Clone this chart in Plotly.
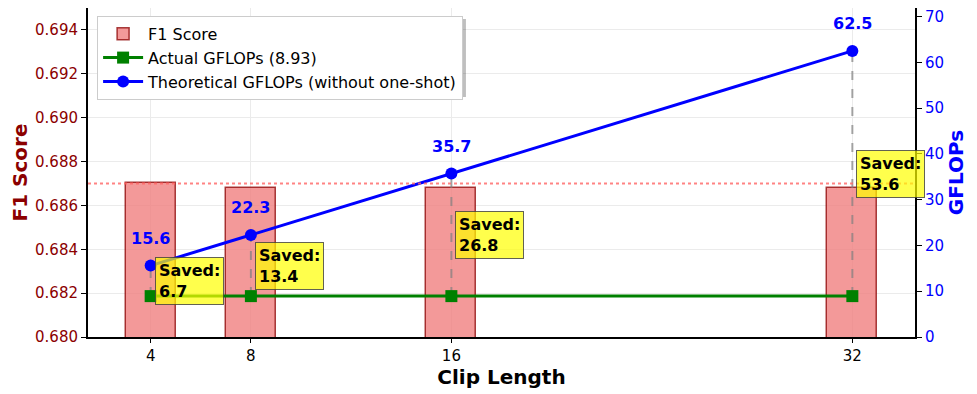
import plotly.graph_objects as go

clip_lengths = [4, 8, 16, 32]
f1_scores = [0.6870, 0.6868, 0.6868, 0.6868]
actual_gflops = [8.93, 8.93, 8.93, 8.93]
theoretical_gflops = [15.6, 22.3, 35.7, 62.5]
saved_gflops = [6.7, 13.4, 26.8, 53.6]
best_f1 = 0.687

FONT = "DejaVu Sans"
fig = go.Figure()

fig.add_trace(go.Bar(
    x=clip_lengths, y=f1_scores, width=2, name="F1 Score",
    marker=dict(color="rgba(240,128,128,0.8)", line=dict(color="rgba(139,0,0,0.75)", width=1.5)),
    yaxis="y",
))

# dashed connectors
for x, a, t in zip(clip_lengths, actual_gflops, theoretical_gflops):
    fig.add_trace(go.Scatter(
        x=[x, x], y=[a, t], mode="lines", yaxis="y2", showlegend=False, hoverinfo="skip",
        line=dict(color="rgba(128,128,128,0.7)", width=2, dash="dash"),
    ))

fig.add_trace(go.Scatter(
    x=clip_lengths, y=actual_gflops, mode="lines+markers", name="Actual GFLOPs (8.93)",
    line=dict(color="green", width=3), marker=dict(symbol="square", size=12, color="green"),
    yaxis="y2",
))
fig.add_trace(go.Scatter(
    x=clip_lengths, y=theoretical_gflops, mode="lines+markers",
    name="Theoretical GFLOPs (without one-shot)",
    line=dict(color="blue", width=3), marker=dict(symbol="circle", size=12, color="blue"),
    yaxis="y2",
))

fig.add_shape(type="line", xref="paper", x0=0, x1=1, yref="y", y0=best_f1, y1=best_f1,
              line=dict(color="rgba(255,100,100,0.8)", width=2, dash="dot"), layer="above")

# legend shadow
fig.add_shape(type="rect", xref="paper", yref="paper", x0=0.0133, x1=0.457, y0=0.7295, y1=0.9666,
              line=dict(width=0), fillcolor="rgba(0,0,0,0.25)", layer="above")

for x, t in zip(clip_lengths, theoretical_gflops):
    fig.add_annotation(x=x, y=t, yref="y2", text=f"<b>{t}</b>", showarrow=False,
                       yanchor="middle", yshift=27,
                       font=dict(family=FONT, size=16, color="blue"))

for x, a, t, s in zip(clip_lengths, actual_gflops, theoretical_gflops, saved_gflops):
    fig.add_annotation(x=x, y=(a + t) / 2, yref="y2", text=f"<b>Saved:<br>{s}</b>",
                       showarrow=False, xanchor="left", yanchor="middle", xshift=4,
                       align="left", bgcolor="rgba(255,255,0,0.7)",
                       bordercolor="rgba(60,60,60,0.8)", borderwidth=1, borderpad=3,
                       font=dict(family=FONT, size=16, color="black"))

fig.update_layout(
    width=969, height=386,
    margin=dict(l=80, r=62, t=0, b=57, autoexpand=False),
    paper_bgcolor="white", plot_bgcolor="white",
    font=dict(family=FONT, size=15, color="black"),
    showlegend=True,
    legend=dict(x=0.011, y=0.976, xanchor="left", yanchor="top",
                bgcolor="white", bordercolor="#cccccc", borderwidth=1,
                itemwidth=40, tracegroupgap=0,
                font=dict(family=FONT, size=16, color="black"), traceorder="normal"),
    xaxis=dict(range=[1.5, 34.5], tickvals=clip_lengths, ticktext=[str(c) for c in clip_lengths],
               showline=True, linecolor="black", linewidth=2, mirror=True,
               ticks="outside", ticklen=4, tickcolor="black",
               showgrid=True, gridcolor="#ebebeb", gridwidth=1, zeroline=False,
               title=dict(text="<b>Clip Length</b>", font=dict(family=FONT, size=20, color="black"), standoff=1),
               tickfont=dict(family=FONT, size=15, color="black")),
    yaxis=dict(range=[0.680, 0.695], tickvals=[0.680, 0.682, 0.684, 0.686, 0.688, 0.690, 0.692, 0.694],
               tickformat=".3f", showline=True, linecolor="black", linewidth=2,
               ticks="outside", ticklen=5, tickcolor="black", ticklabeloverflow="allow",
               showgrid=True, gridcolor="#ebebeb", gridwidth=1, zeroline=False,
               title=dict(text="<b>F1 Score</b>", font=dict(family=FONT, size=20, color="darkred"), standoff=4),
               tickfont=dict(family=FONT, size=15, color="darkred")),
    yaxis2=dict(range=[0, 71.875], overlaying="y", side="right",
                tickvals=[0, 10, 20, 30, 40, 50, 60, 70],
                showline=True, linecolor="black", linewidth=2,
                ticks="outside", ticklen=5, tickcolor="black", ticklabeloverflow="allow",
                showgrid=False, zeroline=False,
                title=dict(text="<b>GFLOPs</b>", font=dict(family=FONT, size=20, color="blue"), standoff=6),
                tickfont=dict(family=FONT, size=15, color="blue")),
    bargap=0,
)

fig.write_html("out.html")
